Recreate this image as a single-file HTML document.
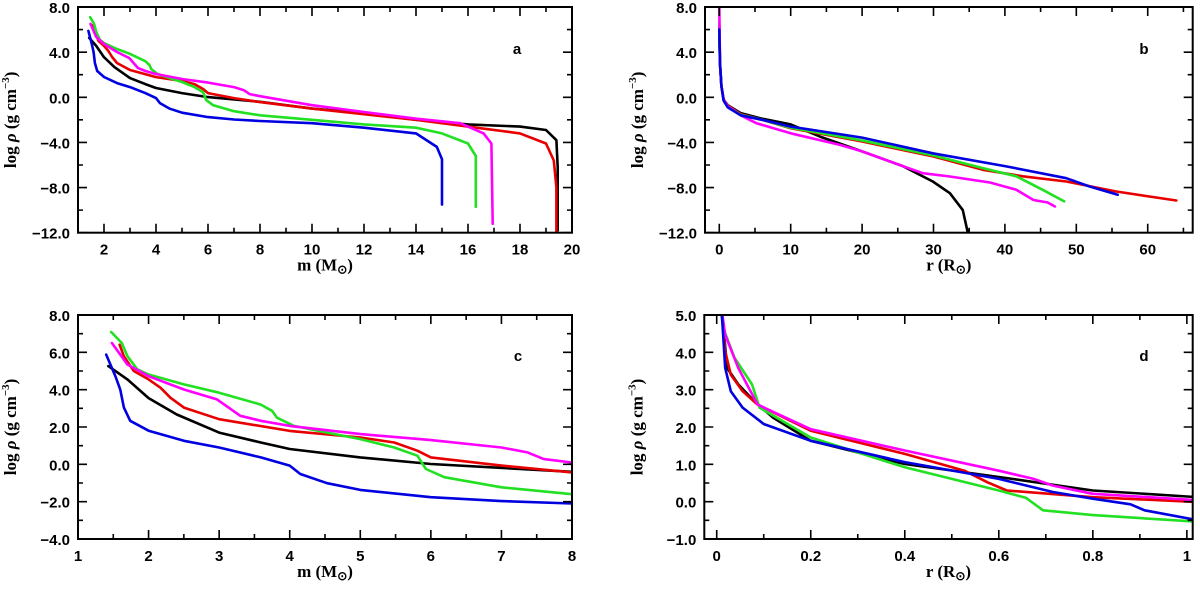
<!DOCTYPE html>
<html><head><meta charset="utf-8"><style>
html,body{margin:0;padding:0;background:#fff;overflow:hidden;width:1200px;height:589px;}
svg{display:block;}
.tk{font-family:"Liberation Sans",sans-serif;font-weight:bold;font-size:15px;fill:#000;}
.al{font-family:"Liberation Serif",serif;font-weight:bold;font-size:17px;fill:#000;}
</style></head><body>
<svg id="chart" width="1200" height="589" viewBox="0 0 1200 589"></svg>
<script>
// ---- data ----
const seriesNames = ["black","red","green","magenta","blue"];
const seriesColors = ["#000000","#e80000","#22e022","#ff00ff","#0000e0"];
// Panel a: m (Msun) vs log rho
const aBlackM = [1.43,1.7,2,2.4,3,3.59,4,5,6,8,10,12,14,16,18,19,19.4,19.45,19.45];
const aBlackY = [5.26,4.55,3.55,2.67,1.7,1.17,0.82,0.37,0.02,-0.4,-1.0,-1.4,-2.0,-2.4,-2.6,-2.9,-3.8,-6.2,-11.8];
const aRedM = [1.59,1.65,1.79,2,2.17,2.31,2.5,3,4,5,5.48,5.81,6,7,8,10,12,14,16,18,19,19.3,19.4,19.4];
const aRedY = [6.41,5.79,5.0,4.55,4.1,3.57,3.04,2.42,1.79,1.44,1.17,0.73,0.37,-0.07,-0.43,-1.0,-1.5,-2.0,-2.6,-3.2,-4.1,-5.6,-8,-12];
const aGreenM = [1.47,1.62,1.7,1.84,2,2.5,3,3.59,3.75,3.82,4.06,4.53,5,5.48,5.81,5.93,6.19,7,8,10,12,14,15,16,16.3,16.3];
const aGreenY = [7.09,6.5,5.8,5.09,4.81,4.28,3.84,3.2,2.86,2.5,2.06,1.7,1.35,0.9,0.46,-0.25,-0.69,-1.23,-1.6,-2.0,-2.4,-2.7,-3.2,-4.1,-5.2,-9.7];
const aMagM = [1.48,1.7,2,2.5,2.97,3.3,3.59,4,5,6,7,7.37,7.6,8,10,12,14,15.7,16.6,16.9,16.95];
const aMagY = [6.5,5.35,4.72,4.01,3.48,2.6,2.33,2.06,1.62,1.3,0.9,0.64,0.28,0.1,-0.7,-1.3,-1.9,-2.3,-3.2,-4.1,-11.2];
const aBlueM = [1.4,1.53,1.6,1.65,1.74,2,2.5,3,3.59,4,4.15,4.53,5,6,7,8,10,12,14,14.8,15,15];
const aBlueY = [5.88,4.72,4.0,3.04,2.33,1.8,1.26,0.9,0.37,-0.07,-0.52,-1.01,-1.37,-1.76,-1.97,-2.1,-2.3,-2.7,-3.2,-4.4,-5.5,-9.5];
// Panel b: r (Rsun) vs log rho
const bBlackR = [0,0.1,0.3,0.6,1.2,3,6,10,14.1,20,25.7,29.9,32.3,34.1,34.8];
const bBlackY = [5.3,3,1,-0.2,-0.7,-1.4,-1.9,-2.4,-3.48,-4.8,-6.1,-7.46,-8.5,-10,-12];
const bRedR = [0,0.1,0.3,0.6,1.2,3,6,10,20,30,36.9,42.5,48.6,55.6,64];
const bRedY = [6.4,3,1,-0.2,-0.75,-1.5,-2.0,-2.74,-3.92,-5.25,-6.43,-7.0,-7.46,-8.35,-9.15];
const bGreenR = [0,0.1,0.3,0.6,1.2,3,6,10,20,30,36.9,41.6,45.3,48.3];
const bGreenY = [6.6,3,1,-0.2,-0.8,-1.55,-2.0,-2.7,-3.83,-5.16,-6.28,-7.0,-8.2,-9.23];
const bMagR = [0,0.1,0.3,0.6,1.2,3,5.2,10,16.9,20,25.7,28.5,32.3,37.9,41.6,44,46,47];
const bMagY = [8,3,1,-0.2,-0.8,-1.6,-2.3,-3.19,-4.22,-4.8,-6.1,-6.73,-7.02,-7.55,-8.2,-9.1,-9.32,-9.68];
const bBlueR = [0,0.1,0.3,0.6,1.2,3,6,10,20,29.9,40,48.6,51.8,55.8];
const bBlueY = [6,3,1,-0.3,-0.9,-1.6,-2.0,-2.6,-3.57,-4.96,-6.1,-7.17,-7.9,-8.64];
// Panel d: r (Rsun) inner zoom
const dBlackR = [0.012,0.022,0.046,0.079,0.12,0.2,0.4,0.6,0.8,1.024];
const dBlackY = [5,3.58,3.14,2.7,2.25,1.63,1.01,0.66,0.3,0.12];
const dRedR = [0.012,0.018,0.03,0.055,0.087,0.2,0.4,0.527,0.576,0.617,0.8,1.024];
const dRedY = [5,4.03,3.4,2.96,2.6,1.9,1.28,0.83,0.52,0.3,0.12,-0.01];
const dGreenR = [0.01,0.014,0.038,0.075,0.091,0.2,0.4,0.6,0.658,0.694,0.8,1.024];
const dGreenY = [5,4.65,3.85,3.14,2.52,1.72,0.92,0.3,0.1,-0.23,-0.36,-0.54];
const dMagR = [0.012,0.018,0.046,0.087,0.2,0.4,0.6,0.674,0.715,0.8,1.024];
const dMagY = [5,4.47,3.58,2.6,1.94,1.37,0.83,0.61,0.43,0.21,0.04];
const dBlueR = [0.011,0.018,0.03,0.055,0.1,0.2,0.4,0.6,0.715,0.8,0.88,0.91,1.024];
const dBlueY = [5,3.58,2.96,2.52,2.08,1.63,1.06,0.61,0.26,0.08,-0.07,-0.23,-0.5];
// tick labels
const aXTicks = [2,4,6,8,10,12,14,16,18,20];
const abYTicks = ["8.0","4.0","0.0","−4.0","−8.0","−12.0"];
const bXTicks = [0,10,20,30,40,50,60];
const cXTicks = [1,2,3,4,5,6,7,8];
const cYTicks = ["8.0","6.0","4.0","2.0","0.0","−2.0","−4.0"];
const dXTicks = ["0","0.2","0.4","0.6","0.8","1"];
const dYTicks = ["5.0","4.0","3.0","2.0","1.0","0.0","−1.0"];

const NS="http://www.w3.org/2000/svg";
const svg=document.getElementById('chart');
function mk(tag,attrs,parent){const e=document.createElementNS(NS,tag);for(const k in attrs)e.setAttribute(k,attrs[k]);(parent||svg).appendChild(e);return e;}

function panel(cfg){
  const g=mk('g',{});
  
  
  const sx=v=>cfg.L+(v-cfg.x0)/(cfg.x1-cfg.x0)*(cfg.R-cfg.L);
  const sy=v=>cfg.T+(cfg.y1-v)/(cfg.y1-cfg.y0)*(cfg.B-cfg.T);
  const cid='clip-'+cfg.id;
  const cp=mk('clipPath',{id:cid},g);
  mk('rect',{x:cfg.L,y:cfg.T,width:cfg.R-cfg.L,height:cfg.B-cfg.T},cp);
  const sg=mk('g',{'clip-path':'url(#'+cid+')'},g);
  cfg.series.forEach((s,i)=>{
    const d=s.x.map((v,j)=>(j?'L':'M')+sx(v).toFixed(1)+','+sy(s.y[j]).toFixed(1)).join(' ');
    const p=mk('path',{d:d,fill:'none',stroke:seriesColors[i],'stroke-width':2.6,'stroke-linejoin':'round','stroke-linecap':'round'},sg);
    
    
  });
  const fr=mk('rect',{x:cfg.L,y:cfg.T,width:cfg.R-cfg.L,height:cfg.B-cfg.T,fill:'none',stroke:'#000','stroke-width':2},g);
  
  
  let tp='';
  const eps=1e-9;
  for(let v=Math.ceil(cfg.x0/cfg.xmin-eps)*cfg.xmin;v<=cfg.x1+eps;v+=cfg.xmin){
    const maj=Math.abs(v/cfg.xmaj-Math.round(v/cfg.xmaj))<1e-6;const l=maj?9:5;const X=sx(v);
    tp+=`M${X},${cfg.B}v${-l}M${X},${cfg.T}v${l}`;
  }
  for(let v=Math.ceil(cfg.y0/cfg.ymin-eps)*cfg.ymin;v<=cfg.y1+eps;v+=cfg.ymin){
    const maj=Math.abs(v/cfg.ymaj-Math.round(v/cfg.ymaj))<1e-6;const l=maj?9:5;const Y=sy(v);
    tp+=`M${cfg.L},${Y}h${l}M${cfg.R},${Y}h${-l}`;
  }
  mk('path',{d:tp,stroke:'#000','stroke-width':1.6,fill:'none'},g);
  cfg.xlabels.forEach((t,i)=>{
    const e=mk('text',{x:sx(cfg.xvals[i]),y:cfg.B+22,'text-anchor':'middle',class:'tk'},g);e.textContent=t;
    
    
  });
  cfg.ylabels.forEach((t,i)=>{
    const e=mk('text',{x:cfg.L-8,y:sy(cfg.yvals[i])+6,'text-anchor':'end',class:'tk'},g);e.textContent=t;
    
    
  });
  const xt=mk('text',{x:(cfg.L+cfg.R)/2,y:cfg.B+38,'text-anchor':'middle',class:'al'},g);
  xt.innerHTML=cfg.xtitle;
  
  
  const cy=(cfg.T+cfg.B)/2, cx=cfg.L-62;
  const yt=mk('text',{x:cx,y:cy,'text-anchor':'middle',class:'al',transform:`rotate(-90 ${cx} ${cy})`},g);
  yt.innerHTML='log <tspan font-style="italic">ρ</tspan>  (g cm<tspan dy="-7" font-size="11">−3</tspan><tspan dy="7">)</tspan>';
  
  
  const lt=mk('text',{x:cfg.lx,y:cfg.ly,'text-anchor':'middle',class:'tk'},g);lt.textContent=cfg.id;
  
  
}
const mTitle='m  (M<tspan dy="3" font-size="12">⊙</tspan><tspan dy="-3">)</tspan>';
const rTitle='r  (R<tspan dy="3" font-size="12">⊙</tspan><tspan dy="-3">)</tspan>';
panel({id:'a',L:78,R:572,T:7,B:232.7,x0:1,x1:20,y0:-12,y1:8,xmaj:2,xmin:1,ymaj:4,ymin:2,
  xvals:aXTicks,xlabels:aXTicks.map(String),yvals:[8,4,0,-4,-8,-12],ylabels:abYTicks,xtitle:mTitle,lx:517,ly:54,
  series:[{x:aBlackM,y:aBlackY},{x:aRedM,y:aRedY},{x:aGreenM,y:aGreenY},{x:aMagM,y:aMagY},{x:aBlueM,y:aBlueY}]});
panel({id:'b',L:705,R:1192.7,T:7,B:232.7,x0:-2,x1:66.3,y0:-12,y1:8,xmaj:10,xmin:5,ymaj:4,ymin:2,
  xvals:bXTicks,xlabels:bXTicks.map(String),yvals:[8,4,0,-4,-8,-12],ylabels:abYTicks,xtitle:rTitle,lx:1144,ly:54,
  series:[{x:bBlackR,y:bBlackY},{x:bRedR,y:bRedY},{x:bGreenR,y:bGreenY},{x:bMagR,y:bMagY},{x:bBlueR,y:bBlueY}]});
panel({id:'c',L:78,R:572,T:315,B:539,x0:1,x1:8,y0:-4,y1:8,xmaj:1,xmin:0.5,ymaj:2,ymin:1,
  xvals:cXTicks,xlabels:cXTicks.map(String),yvals:[8,6,4,2,0,-2,-4],ylabels:cYTicks,xtitle:mTitle,lx:518,ly:361,
  series:[{x:aBlackM,y:aBlackY},{x:aRedM,y:aRedY},{x:aGreenM,y:aGreenY},{x:aMagM,y:aMagY},{x:aBlueM,y:aBlueY}]});
panel({id:'d',L:704.3,R:1192.7,T:315,B:539,x0:-0.0264,x1:1.0124,y0:-1,y1:5,xmaj:0.2,xmin:0.1,ymaj:1,ymin:0.5,
  xvals:[0,0.2,0.4,0.6,0.8,1],xlabels:dXTicks,yvals:[5,4,3,2,1,0,-1],ylabels:dYTicks,xtitle:rTitle,lx:1144,ly:361,
  series:[{x:dBlackR,y:dBlackY},{x:dRedR,y:dRedY},{x:dGreenR,y:dGreenY},{x:dMagR,y:dMagY},{x:dBlueR,y:dBlueY}]});
</script>
</body></html>
